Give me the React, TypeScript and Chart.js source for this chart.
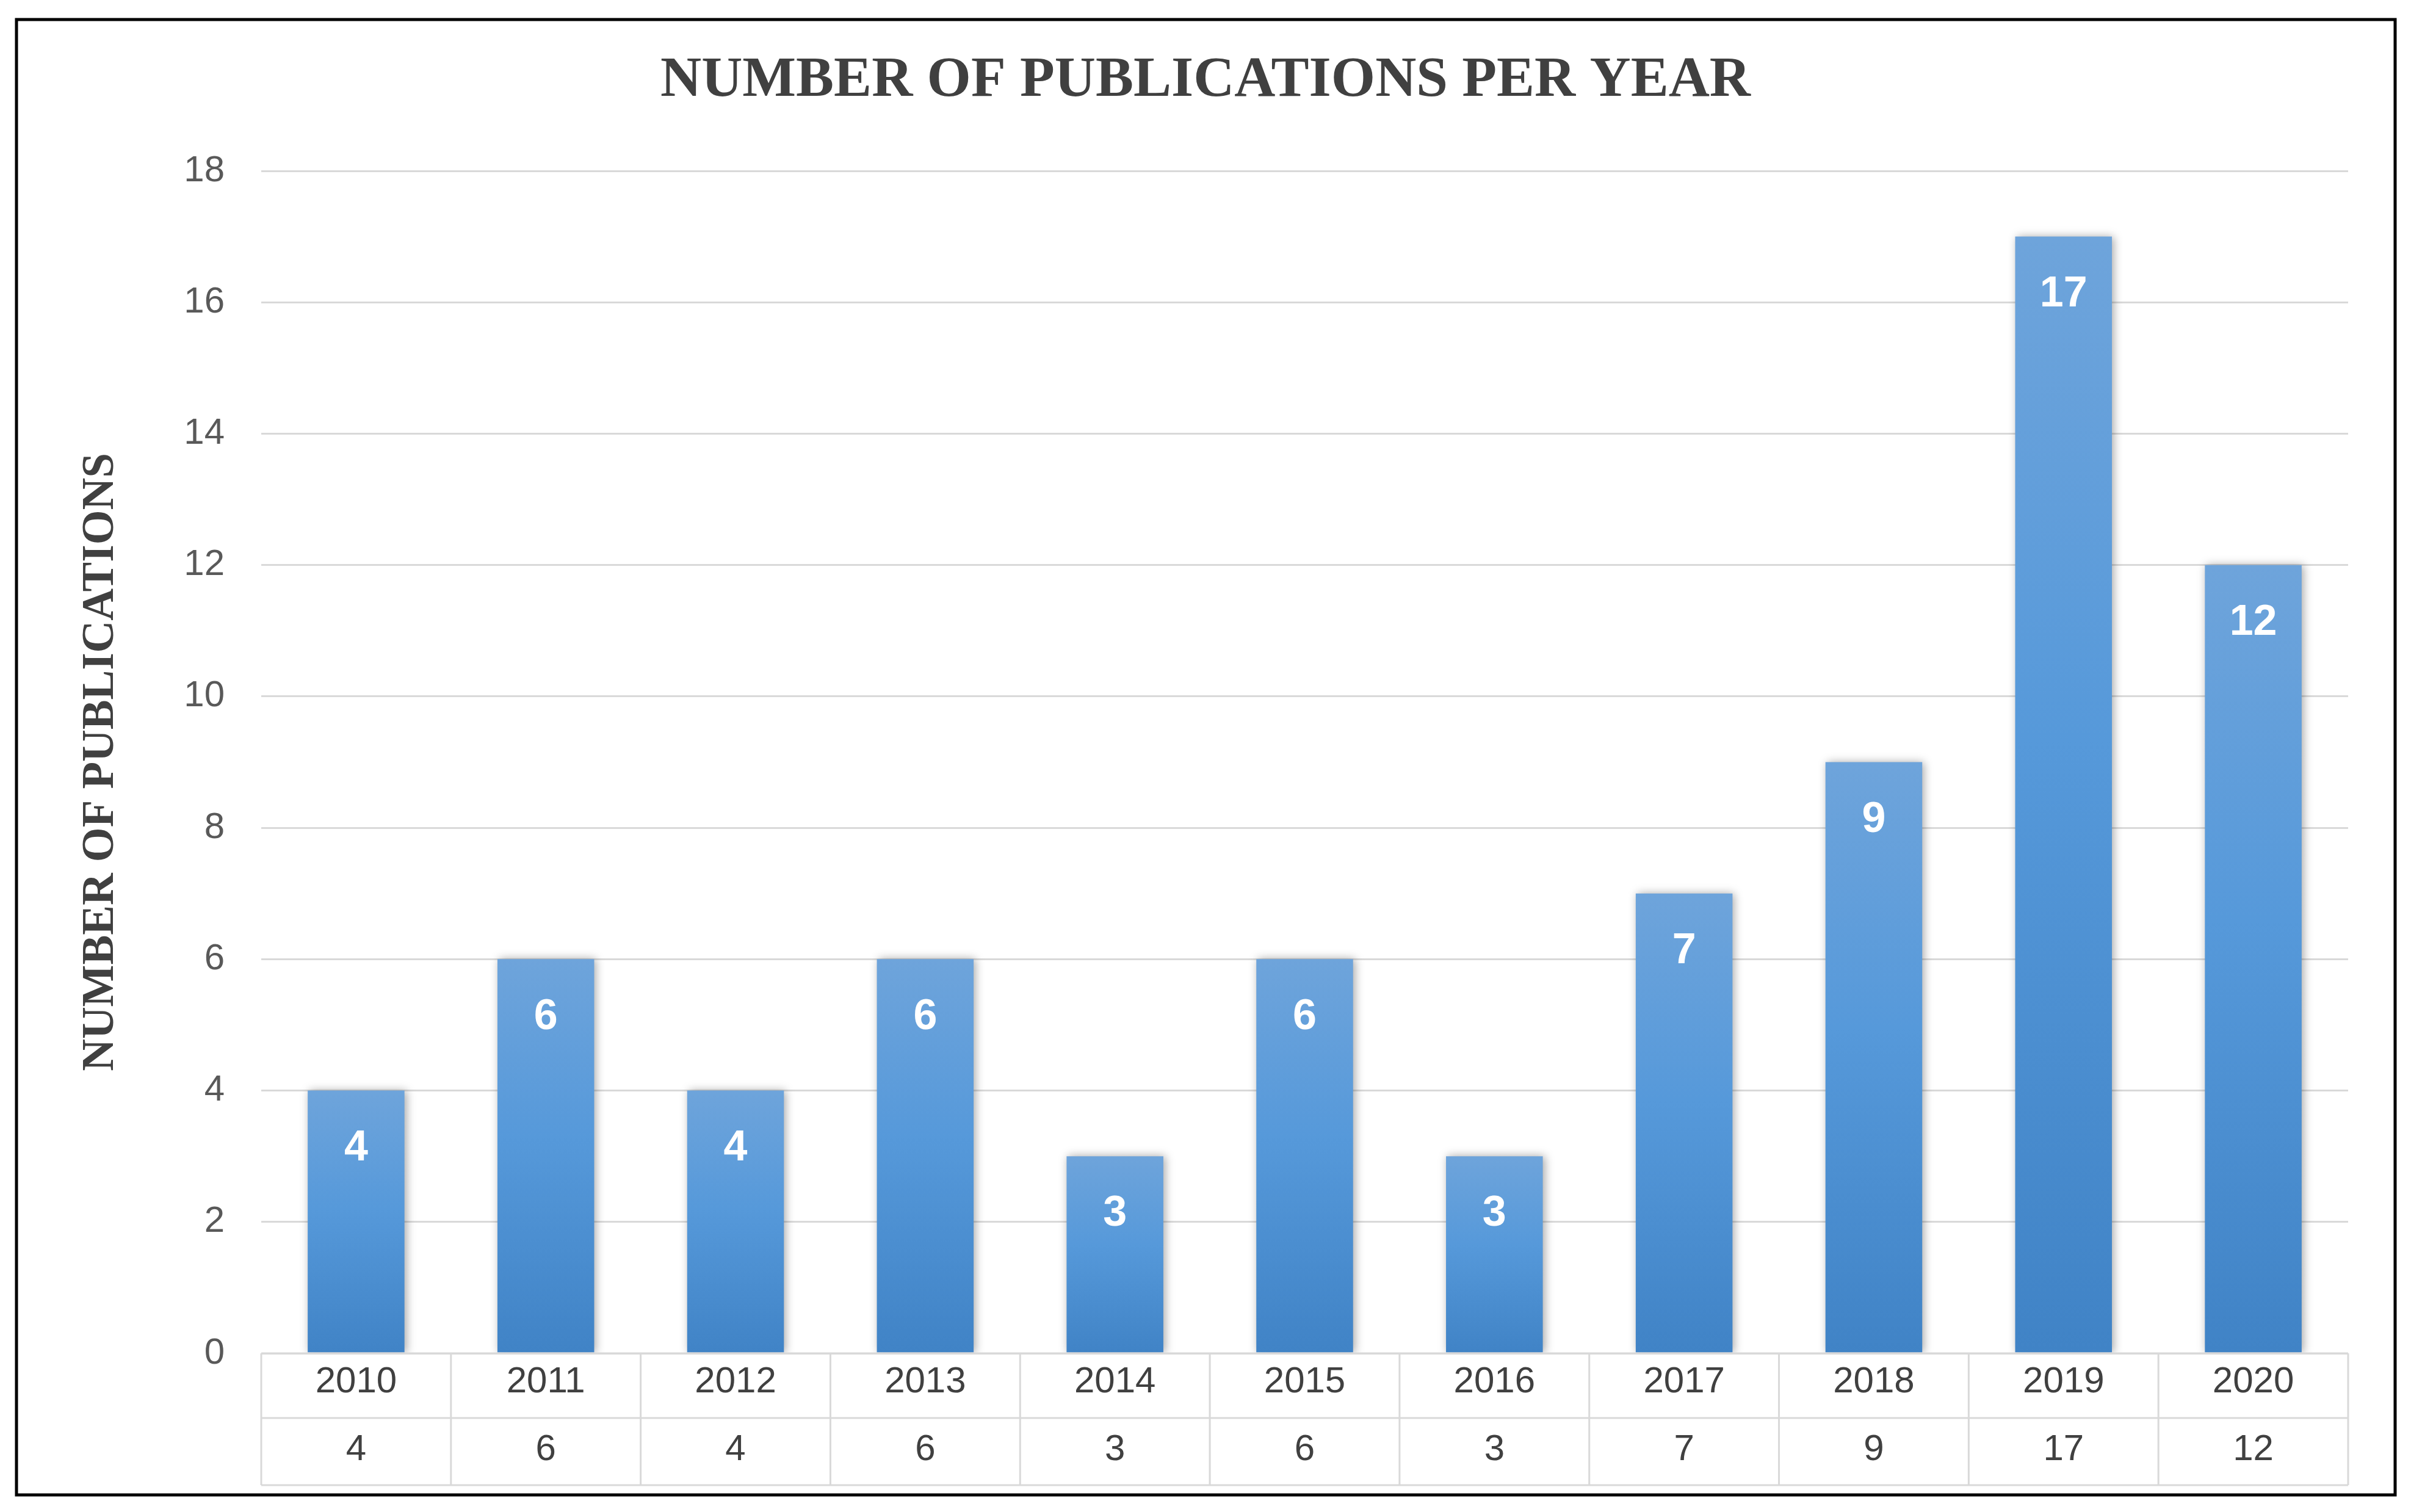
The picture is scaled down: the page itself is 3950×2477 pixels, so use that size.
import React, { useEffect, useRef } from "react";
import { Chart, registerables } from "chart.js";

Chart.register(...registerables);

const years = ["2010", "2011", "2012", "2013", "2014", "2015", "2016", "2017", "2018", "2019", "2020"];
const counts = [4, 6, 4, 6, 3, 6, 3, 7, 9, 17, 12];
const yMin = 0;
const yMax = 18;
const yStep = 2;
const chartTitle = "NUMBER OF PUBLICATIONS PER YEAR";
const yAxisTitle = "NUMBER OF PUBLICATIONS";

const W = 3950;
const H = 2477;

const framePlugin = {
  id: "frame",
  beforeDraw(chart: any) {
    const ctx = chart.ctx;
    ctx.save();
    ctx.fillStyle = "#ffffff";
    ctx.fillRect(0, 0, chart.width, chart.height);
    ctx.restore();
  },
  afterDraw(chart: any) {
    const ctx = chart.ctx;
    ctx.save();
    ctx.strokeStyle = "#000000";
    ctx.lineWidth = 5;
    ctx.strokeRect(27, 32, 3897, 2417);
    // title
    ctx.fillStyle = "#404040";
    ctx.font = "bold 93px 'Liberation Serif'";
    ctx.textAlign = "center";
    ctx.textBaseline = "middle";
    ctx.fillText(chartTitle, 1975, 133);
    ctx.restore();
  },
};

const shadowPlugin = {
  id: "barShadow",
  beforeDatasetDraw(chart: any) {
    const ctx = chart.ctx;
    ctx.save();
    ctx.shadowColor = "rgba(0,0,0,0.35)";
    ctx.shadowBlur = 14;
    ctx.shadowOffsetX = 3;
    ctx.shadowOffsetY = 0;
  },
  afterDatasetDraw(chart: any) {
    chart.ctx.restore();
  },
};

const labelPlugin = {
  id: "barLabels",
  afterDatasetsDraw(chart: any) {
    const ctx = chart.ctx;
    const meta = chart.getDatasetMeta(0);
    ctx.save();
    ctx.fillStyle = "#ffffff";
    ctx.font = "bold 70px 'Liberation Sans'";
    ctx.textAlign = "center";
    ctx.textBaseline = "middle";
    meta.data.forEach((bar: any, i: number) => {
      ctx.fillText(String(counts[i]), bar.x, bar.y + 95);
    });
    ctx.restore();
  },
};

const tablePlugin = {
  id: "dataTable",
  afterDraw(chart: any) {
    const ctx = chart.ctx;
    const xs = chart.scales.x;
    const area = chart.chartArea;
    const n = years.length;
    const w = (area.right - area.left) / n;
    const top = area.bottom;
    const mid = top + 106;
    const bot = top + 216;
    ctx.save();
    ctx.strokeStyle = "#d9d9d9";
    ctx.lineWidth = 3;
    ctx.beginPath();
    ctx.moveTo(area.left, top);
    ctx.lineTo(area.right, top);
    ctx.moveTo(area.left, mid);
    ctx.lineTo(area.right, mid);
    ctx.moveTo(area.left, bot);
    ctx.lineTo(area.right, bot);
    for (let i = 0; i <= n; i++) {
      const x = i < n ? xs.getPixelForValue(i) - w / 2 : xs.getPixelForValue(n - 1) + w / 2;
      ctx.moveTo(x, top);
      ctx.lineTo(x, bot);
    }
    ctx.stroke();
    ctx.fillStyle = "#404040";
    ctx.font = "60px 'Liberation Sans'";
    ctx.textAlign = "center";
    ctx.textBaseline = "middle";
    for (let i = 0; i < n; i++) {
      const x = xs.getPixelForValue(i);
      ctx.fillText(years[i], x, top + 47);
      ctx.fillText(String(counts[i]), x, top + 158);
    }
    ctx.restore();
  },
};

export default function App() {
  const ref = useRef<HTMLCanvasElement | null>(null);

  useEffect(() => {
    document.body.style.margin = "0";
    const canvas = ref.current;
    if (!canvas) return;
    const chart = new Chart(canvas, {
      type: "bar",
      data: {
        labels: years,
        datasets: [
          {
            data: counts,
            backgroundColor: (c: any) => {
              const chart = c.chart;
              const y = chart.scales && chart.scales.y;
              if (!chart.chartArea || !y || c.raw === undefined) return "#5699da";
              const t = y.getPixelForValue(c.raw);
              const b = y.getPixelForValue(0);
              if (!isFinite(t) || !isFinite(b) || t === b) return "#5699da";
              const g = chart.ctx.createLinearGradient(0, t, 0, b);
              g.addColorStop(0, "#6ea4db");
              g.addColorStop(0.45, "#5699da");
              g.addColorStop(1, "#4083c6");
              return g;
            },
            borderWidth: 0,
            barPercentage: 0.51,
            categoryPercentage: 1.0,
          },
        ],
      },
      options: {
        responsive: false,
        animation: false,
        devicePixelRatio: 1,
        layout: { padding: { left: 27, top: 280, right: 103, bottom: 260 } },
        plugins: {
          legend: { display: false },
          title: { display: false },
          tooltip: { enabled: false },
        },
        scales: {
          x: {
            display: false,
            grid: { display: false },
          },
          y: {
            min: yMin,
            max: yMax,
            ticks: {
              stepSize: yStep,
              color: "#595959",
              font: { family: "'Liberation Sans'", size: 60 },
              padding: 60,
            },
            grid: { color: "#d9d9d9", lineWidth: 3, drawTicks: false },
            border: { display: false },
            title: {
              display: true,
              text: yAxisTitle,
              color: "#404040",
              font: { family: "'Liberation Serif'", size: 73, weight: "bold" },
              padding: { top: 95, bottom: 0 },
            },
            afterFit: (scale: any) => {
              scale.width = 401;
            },
          },
        },
      },
      plugins: [framePlugin, shadowPlugin, labelPlugin, tablePlugin],
    } as any);
    return () => chart.destroy();
  }, []);

  return <canvas ref={ref} width={W} height={H} style={{ display: "block", width: W, height: H }} />;
}
